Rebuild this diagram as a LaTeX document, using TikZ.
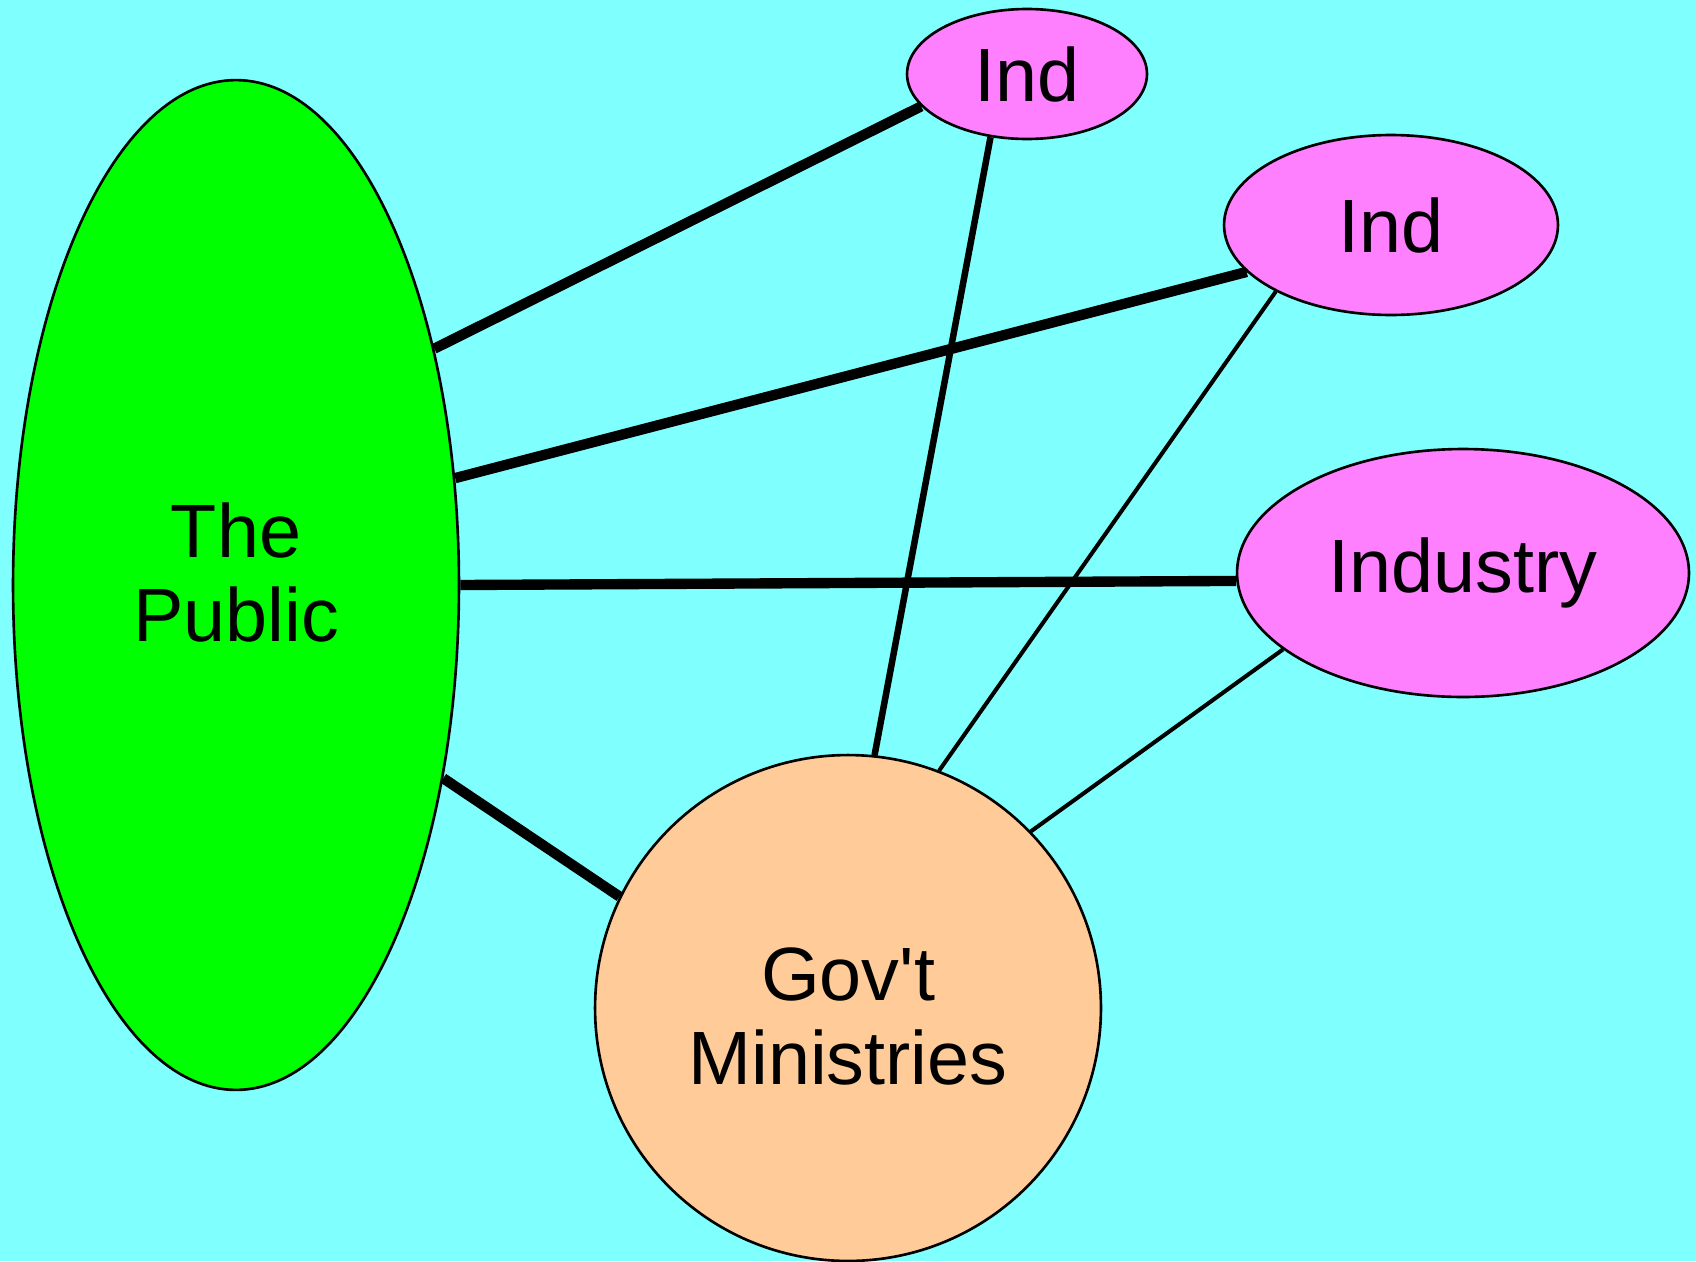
\documentclass[tikz,border=0pt]{standalone}
\usepackage{fontspec}
\setmainfont{Liberation Sans}
\usetikzlibrary{shapes.geometric}
\definecolor{skycyan}{HTML}{80FFFF}
\definecolor{publicgreen}{HTML}{00FF00}
\definecolor{indpink}{HTML}{FF80FF}
\definecolor{govpeach}{HTML}{FFCC99}
\tikzset{x=0.02cm, y=-0.02cm,
    every node/.style={draw, line width=1.5pt, inner sep=0pt, align=center,
        font=\fontsize{43}{48}\selectfont},
    blob/.style={ellipse, fill=indpink},
    thick tie/.style={line width=5.9pt},
    mid tie/.style={line width=3.7pt},
    thin tie/.style={line width=2.3pt},
    }

\begin{document}
\begin{tikzpicture}
\path[use as bounding box, fill=skycyan] (0,0) rectangle (1696,1261);
% groups
\node[ellipse, fill=publicgreen, minimum width=8.92cm, minimum height=20.2cm] (pub) at (236,585) {The\\Public\\[-33pt]};
\node[blob, minimum width=4.8cm, minimum height=2.6cm] (indA) at (1027,74) {Ind};
\node[blob, minimum width=6.68cm, minimum height=3.6cm] (indB) at (1391,225) {Ind};
\node[blob, minimum width=9.04cm, minimum height=4.96cm] (industry) at (1463,573) {Industry};
\node[circle, fill=govpeach, minimum size=10.12cm] (gov) at (848,1008) {\\[-8pt]Gov\textquotesingle t\\Ministries};
% ties from the public
\draw[thick tie] (pub.50.7) -- (indA.197.3);
\draw[thick tie] (pub.26.6) -- (indB.198.5);
\draw[thick tie] (pub.0) -- (industry.182);
\draw[thick tie] (pub.-43) -- (gov.154.7);
% ties to the ministries
\draw[mid tie] (indA.240.2) -- (gov.84);
\draw[thin tie] (indB.210.3) -- (gov.69);
\draw[thin tie] (industry.203.3) -- (gov.44.8);
\end{tikzpicture}
\end{document}
